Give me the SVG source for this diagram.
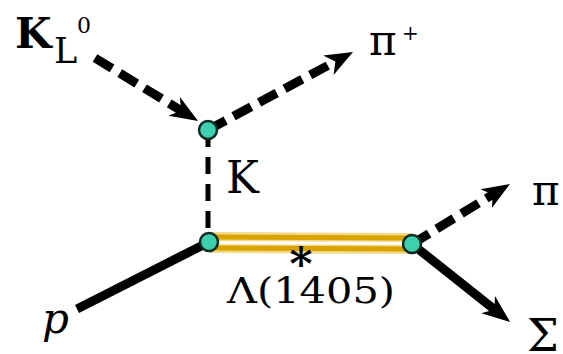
<svg xmlns="http://www.w3.org/2000/svg" width="563" height="354" viewBox="0 0 563 354">
<style>
text{font-family:'DejaVu Serif','Liberation Serif',serif;fill:#000}
.dash{stroke:#000;stroke-width:9;fill:none;stroke-dasharray:20 9}
.solid{stroke:#000;stroke-width:9;fill:none}
.vtx{fill:#3ecfae;stroke:#102a24;stroke-width:2.5}
</style>
<defs>
<marker id="ah" viewBox="0 -12 28 24" refX="8" refY="0" markerWidth="28" markerHeight="24" markerUnits="userSpaceOnUse" orient="auto">
<path d="M0,-11 L28,0 L0,11 L8,0 Z" fill="#000"/>
</marker>
</defs>
<rect width="563" height="354" fill="#fff"/>
<g id="connectors">
<line class="dash" x1="95" y1="58" x2="181" y2="110.6" marker-end="url(#ah)"/>
<line class="dash" x1="208" y1="130" x2="335.4" y2="61.5" marker-end="url(#ah)"/>
<line x1="208" y1="130" x2="208" y2="242" stroke="#000" stroke-width="5" stroke-dasharray="17 10"/>
<line class="solid" x1="77" y1="309" x2="209" y2="242"/>
<g id="lambda-propagator">
<line x1="209" y1="242.5" x2="412" y2="243.5" stroke="#f3d98a" stroke-width="21"/>
<line x1="209" y1="237" x2="412" y2="238" stroke="#d9a300" stroke-width="5"/>
<line x1="209" y1="248" x2="412" y2="249" stroke="#d9a300" stroke-width="5"/>
<line x1="209" y1="242.5" x2="412" y2="243.5" stroke="#fff" stroke-width="3"/>
</g>
<line class="dash" x1="412" y1="244" x2="492.9" y2="194.4" stroke-dasharray="18 9" marker-end="url(#ah)"/>
<line class="solid" x1="412" y1="244" x2="494.4" y2="309.5" marker-end="url(#ah)"/>
</g>
<g id="v1"><circle class="vtx" cx="208" cy="130" r="9"/></g>
<g id="v2"><circle class="vtx" cx="209" cy="242" r="9"/></g>
<g id="v3"><circle class="vtx" cx="412" cy="244" r="9"/></g>
<g id="label-KL0"><text x="15" y="48" font-size="42" font-weight="bold">K</text><text x="54" y="63" font-size="35">L</text><text x="77" y="33" font-size="22">0</text></g>
<g id="label-piplus"><text x="369" y="55" font-size="42">π</text><text x="402" y="40" font-size="20">+</text></g>
<g id="label-K"><text x="226" y="193" font-size="44">K</text></g>
<g id="label-p"><text x="42" y="333" font-size="42" font-style="italic">p</text></g>
<g id="label-star"><text x="301" y="280" font-size="44" font-weight="bold" text-anchor="middle">*</text></g>
<g id="label-lambda"><text x="227" y="303" font-size="36" textLength="168" lengthAdjust="spacingAndGlyphs">Λ(1405)</text></g>
<g id="label-pi"><text x="532" y="205" font-size="42">π</text></g>
<g id="label-sigma"><text x="527" y="351" font-size="45">Σ</text></g>
</svg>
